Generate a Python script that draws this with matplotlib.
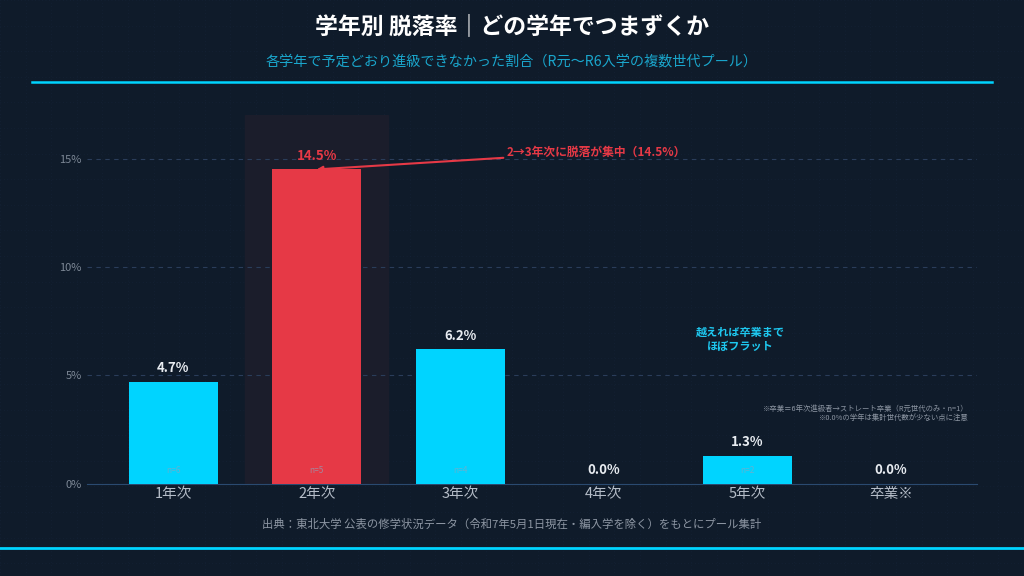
import matplotlib.pyplot as plt
import numpy as np

plt.rcParams['font.family'] = ['Noto Sans CJK JP', 'DejaVu Sans']

# data
grades = ['1年次', '2年次', '3年次', '4年次', '5年次', '卒業※']
dropout = [4.7, 14.5, 6.2, 0.0, 1.3, 0.0]
n_cohorts = [6, 5, 4, 3, 2, 1]
yticks = [0, 5, 10, 15]
peak = 1

BG = '#0f1b2a'
CYAN = '#00d4ff'
RED = '#e63946'
GRID = '#2a3d5a'

fig = plt.figure(figsize=(10.24, 5.76), dpi=100, facecolor=BG)

# faint dot pattern in the background
bg = fig.add_axes([0, 0, 1, 1], zorder=-5)
bg.set_facecolor(BG)
bg.set_xlim(0, 1024)
bg.set_ylim(576, 0)
for gx in np.arange(0, 1024, 25.6):
    bg.axvline(gx, color='#16243a', lw=0.5, ls=(0, (1, 4)))
for gy in np.arange(0, 576, 25.6):
    bg.axhline(gy, color='#16243a', lw=0.5, ls=(0, (1, 4)))
bg.axis('off')

# header / footer
fig.text(0.5, 0.953, '学年別 脱落率｜どの学年でつまずくか', ha='center', va='center',
         color='white', fontsize=16.5, fontweight='bold')
fig.text(0.5, 0.894, '各学年で予定どおり進級できなかった割合（R元〜R6入学の複数世代プール）',
         ha='center', va='center', color='#1aa6cc', fontsize=10.2)
fig.add_artist(plt.Line2D([0.031, 0.969], [0.857, 0.857], color=CYAN, lw=1.8))
fig.text(0.5, 0.09, '出典：東北大学 公表の修学状況データ（令和7年5月1日現在・編入学を除く）をもとにプール集計',
         ha='center', va='center', color='#8d96a3', fontsize=8.2)
fig.add_artist(plt.Line2D([0, 1], [0.049, 0.049], color=CYAN, lw=2))

ax = fig.add_axes([0.085, 0.16, 0.869, 0.64])
ax.set_facecolor('none')
x = np.arange(len(grades))

# highlight column
ax.axvspan(peak - 0.5, peak + 0.5, color='#1b1d2b', zorder=0)

colors = [RED if i == peak else CYAN for i in range(len(grades))]
ax.bar(x, dropout, width=0.62, color=colors, zorder=3)

for i, v in enumerate(dropout):
    ax.text(i, v + 0.3, f'{v:.1f}%', ha='center', va='bottom', fontsize=9.5,
            fontweight='bold', color=RED if i == peak else '#e8ecf1', zorder=4)
    if v > 0:
        ax.text(i, 0.6, f'n={n_cohorts[i]}', ha='center', va='center', fontsize=6,
                color='#8aa6bf', alpha=0.7, zorder=4)

ax.annotate('2→3年次に脱落が集中（14.5%）', xy=(peak, dropout[peak]), xytext=(2.32, 15.3),
            color=RED, fontsize=8.5, fontweight='bold', ha='left', va='center',
            arrowprops=dict(arrowstyle='-|>', color=RED, lw=1.5, mutation_scale=8,
                            shrinkA=0, shrinkB=0), zorder=5)

ax.text(3.95, 6.65, '越えれば卒業まで\nほぼフラット', ha='center', va='center',
        color='#1ec8f0', fontsize=8, fontweight='bold', linespacing=1.1)
ax.text(5.54, 3.25, '※卒業＝6年次進級者→ストレート卒業（R元世代のみ・n=1）\n※0.0%の学年は集計世代数が少ない点に注意',
        ha='right', va='center', color='#8d96a3', fontsize=5.3, linespacing=1.3)

ax.set_xlim(-0.6, 5.6)
ax.set_ylim(0, 17)
ax.set_yticks(yticks)
ax.set_yticklabels([f'{t}%' for t in yticks])
ax.set_xticks(x)
ax.set_xticklabels(grades)
ax.tick_params(axis='y', length=0, labelsize=8, colors='#7d8896', pad=4)
ax.tick_params(axis='x', length=0, labelsize=10.5, colors='#b5bdc8', pad=2)
ax.yaxis.grid(True, ls=(0, (4, 4)), color=GRID, lw=0.8)
ax.set_axisbelow(True)
for s in ['top', 'right', 'left']:
    ax.spines[s].set_visible(False)
ax.spines['bottom'].set_color('#2a4a70')

fig.savefig('out.png', dpi=100, facecolor=BG)
